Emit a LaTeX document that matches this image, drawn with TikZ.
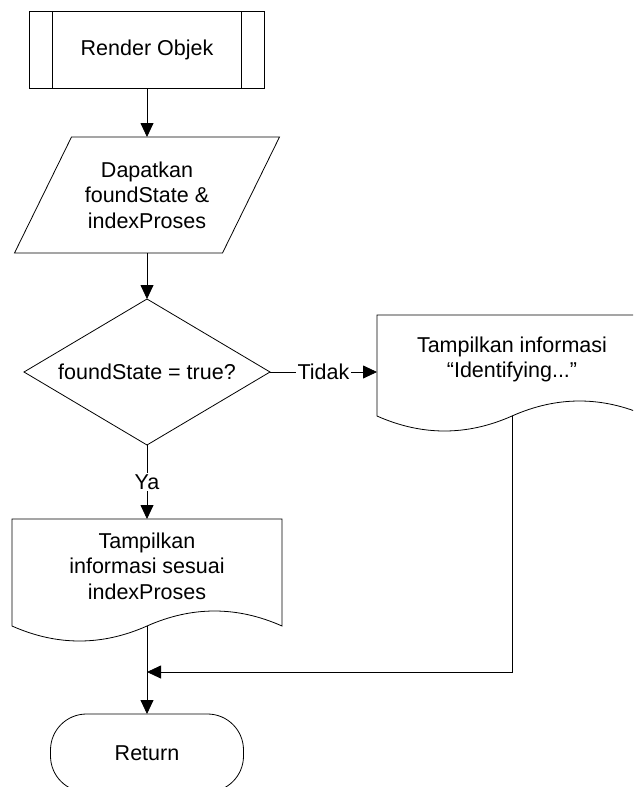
\documentclass[tikz,border=0pt]{standalone}
\usepackage{fontspec}
\setmainfont{Liberation Sans}
\usetikzlibrary{shapes.geometric, arrows.meta, calc}

\begin{document}
\begin{tikzpicture}[
    x=1pt, y=-1pt,
    font=\fontsize{21.5pt}{25.5pt}\selectfont,
    line width=0.8pt,
    base/.style={inner sep=0pt, outer sep=0pt, align=center},
    subproc/.style={base, draw, rectangle, minimum width=235pt, minimum height=77pt},
    iobox/.style={base, rectangle, minimum width=208pt, minimum height=116pt},
    decision/.style={base, draw, diamond, shape aspect=1.685, minimum width=246pt, minimum height=146pt},
    docbox/.style={base, rectangle, minimum width=270pt},
    terminal/.style={base, draw, rectangle, rounded corners=36pt, minimum width=193pt, minimum height=78pt},
    lbl/.style={fill=white, inner sep=1.5pt},
    arrow/.style={-{Triangle[length=14pt, width=13pt]}}
]
    \useasboundingbox (0,0) rectangle (633,787);
    \clip (0,0) rectangle (633,787);

    % Main flow
    \node[subproc] (render) at (147,49.5) {Render Objek};
    \draw ($(render.north west)+(23,0)$) -- ($(render.south west)+(23,0)$);
    \draw ($(render.north east)-(23,0)$) -- ($(render.south east)-(23,0)$);

    \node[iobox] (getdata) at (147,195) {Dapatkan\\foundState \&\\indexProses};
    \draw ($(getdata.north west)+(28.5,0)$) -- ($(getdata.north east)+(28.5,0)$)
        -- ($(getdata.south east)-(28.5,0)$) -- ($(getdata.south west)-(28.5,0)$) -- cycle;

    \node[decision] (check) at (147,372) {foundState = true?};

    % Output documents
    \node[docbox, minimum height=94pt] (showinfo) at (147,566) {Tampilkan\\informasi sesuai\\indexProses};
    \node[docbox, minimum height=89pt] (showid) at (512,359.5) {Tampilkan informasi\\“Identifying...”};

    \foreach \n/\s in {showinfo/13, showid/12} {
        \draw (\n.north west) -- (\n.north east) -- ($(\n.south east)+(0,\s)$)
            .. controls +(-45,-20) and +(45,-20) .. ($(\n.south)+(0,\s)$)
            .. controls +(-45,20) and +(45,20) .. ($(\n.south west)+(0,\s)$) -- cycle;
        \coordinate (\n-w) at ($(\n.south)+(0,\s)$);
    }

    \node[terminal] (ret) at (147,753) {Return};

    % Connections
    \coordinate (join) at (147,672);
    \draw[arrow] (render) -- (getdata);
    \draw[arrow] (getdata) -- (check);
    \draw[arrow] (check.east) -- node[lbl] {Tidak} (check.east -| showid.west);
    \draw[arrow] (check.south) -- node[lbl] {Ya} (showinfo.north);
    \draw[arrow] (showinfo-w) -- (ret);
    \draw[arrow] (showid-w) |- (join);
\end{tikzpicture}
\end{document}
